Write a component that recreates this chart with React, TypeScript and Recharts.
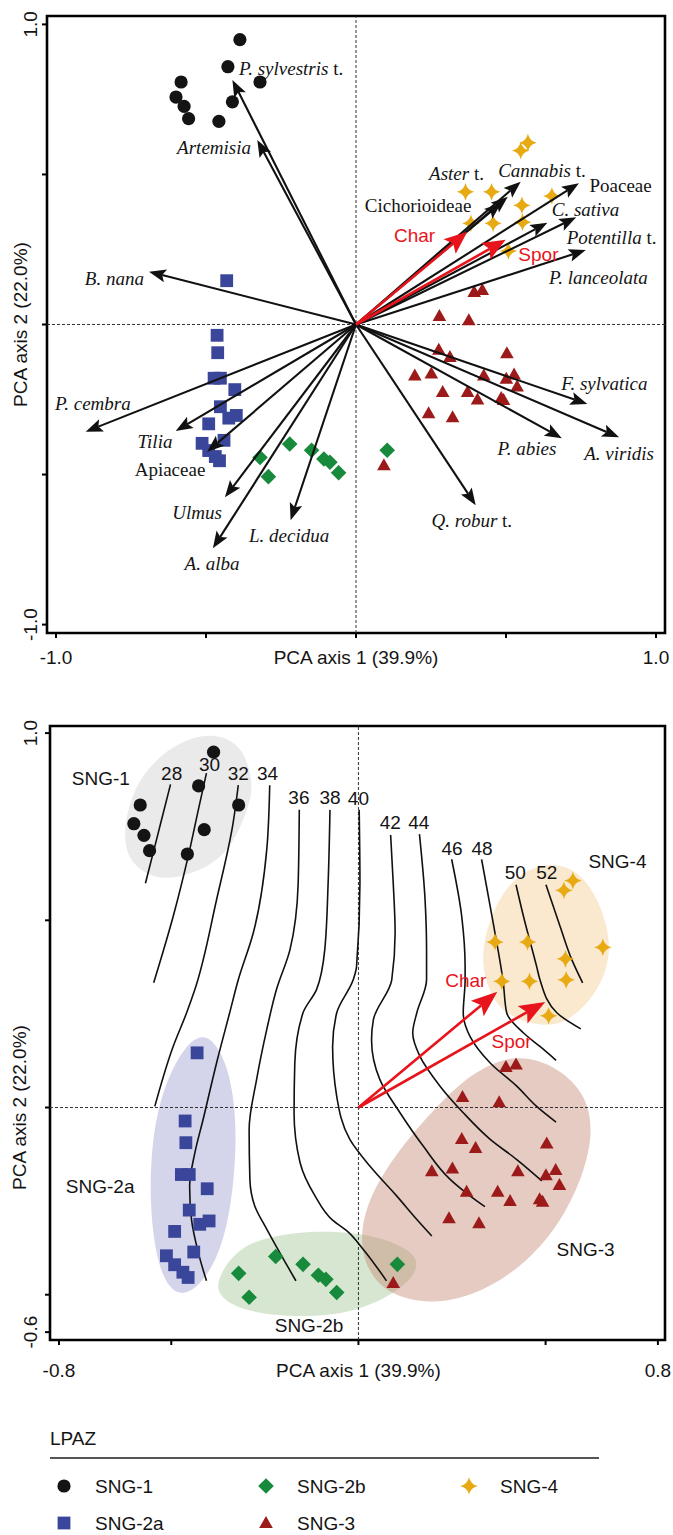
import React from "react";
import { ScatterChart, Scatter, XAxis, YAxis, ReferenceArea } from "recharts";

type Pt = { x: number; y: number };
type Lbl = { x: number; y: number; text?: string; it?: string; up?: string; anchor?: string };

// --- site scores (same in both ordinations) ---
const sng1: Pt[] = [
  { x: -0.387, y: 0.949 }, { x: -0.427, y: 0.859 }, { x: -0.32, y: 0.808 },
  { x: -0.583, y: 0.808 }, { x: -0.6, y: 0.758 }, { x: -0.573, y: 0.727 },
  { x: -0.558, y: 0.686 }, { x: -0.412, y: 0.742 }, { x: -0.457, y: 0.677 },
];
const sng2a: Pt[] = [
  { x: -0.431, y: 0.146 }, { x: -0.463, y: -0.036 }, { x: -0.461, y: -0.094 },
  { x: -0.473, y: -0.179 }, { x: -0.452, y: -0.179 }, { x: -0.404, y: -0.217 },
  { x: -0.452, y: -0.274 }, { x: -0.424, y: -0.312 }, { x: -0.399, y: -0.303 },
  { x: -0.491, y: -0.331 }, { x: -0.44, y: -0.386 }, { x: -0.513, y: -0.396 },
  { x: -0.491, y: -0.42 }, { x: -0.469, y: -0.44 }, { x: -0.455, y: -0.454 },
];
const sng2b: Pt[] = [
  { x: -0.221, y: -0.398 }, { x: -0.32, y: -0.443 }, { x: -0.292, y: -0.507 },
  { x: -0.148, y: -0.419 }, { x: -0.107, y: -0.448 }, { x: -0.087, y: -0.459 },
  { x: -0.058, y: -0.494 }, { x: 0.104, y: -0.419 },
];
const sng3: Pt[] = [
  { x: 0.394, y: 0.108 }, { x: 0.421, y: 0.115 }, { x: 0.278, y: 0.028 },
  { x: 0.376, y: 0.014 }, { x: 0.276, y: -0.084 }, { x: 0.313, y: -0.108 },
  { x: 0.503, y: -0.096 }, { x: 0.196, y: -0.17 }, { x: 0.251, y: -0.163 },
  { x: 0.426, y: -0.17 }, { x: 0.501, y: -0.181 }, { x: 0.527, y: -0.167 },
  { x: 0.537, y: -0.207 }, { x: 0.289, y: -0.225 }, { x: 0.372, y: -0.225 },
  { x: 0.405, y: -0.25 }, { x: 0.484, y: -0.245 }, { x: 0.492, y: -0.252 },
  { x: 0.242, y: -0.296 }, { x: 0.322, y: -0.309 }, { x: 0.093, y: -0.469 },
];
const sng4: Pt[] = [
  { x: 0.573, y: 0.606 }, { x: 0.549, y: 0.58 }, { x: 0.365, y: 0.442 },
  { x: 0.452, y: 0.442 }, { x: 0.653, y: 0.428 }, { x: 0.553, y: 0.397 },
  { x: 0.383, y: 0.337 }, { x: 0.457, y: 0.337 }, { x: 0.555, y: 0.341 },
  { x: 0.508, y: 0.245 },
];

// --- species loadings (top panel) ---
const speciesTips: Pt[] = [
  { x: -0.412, y: 0.815 }, { x: -0.329, y: 0.615 }, { x: -0.69, y: 0.176 },
  { x: -0.901, y: -0.357 }, { x: -0.601, y: -0.355 }, { x: -0.496, y: -0.424 },
  { x: -0.437, y: -0.576 }, { x: -0.477, y: -0.746 }, { x: -0.218, y: -0.652 },
  { x: 0.399, y: -0.602 }, { x: 0.686, y: -0.379 }, { x: 0.877, y: -0.376 },
  { x: 0.771, y: -0.265 }, { x: 0.766, y: 0.248 }, { x: 0.734, y: 0.357 },
  { x: 0.638, y: 0.339 }, { x: 0.743, y: 0.471 }, { x: 0.549, y: 0.476 },
  { x: 0.506, y: 0.426 }, { x: 0.484, y: 0.405 },
];
const speciesLabels: Lbl[] = [
  { x: -0.39, y: 0.855, it: "P. sylvestris", up: " t.", anchor: "start" },
  { x: -0.35, y: 0.592, it: "Artemisia", anchor: "end" },
  { x: -0.707, y: 0.155, it: "B. nana", anchor: "end" },
  { x: -0.751, y: -0.261, it: "P. cembra", anchor: "end" },
  { x: -0.67, y: -0.387, it: "Tilia", anchor: "middle" },
  { x: -0.62, y: -0.483, up: "Apiaceae", anchor: "middle" },
  { x: -0.53, y: -0.624, it: "Ulmus", anchor: "middle" },
  { x: -0.48, y: -0.794, it: "A. alba", anchor: "middle" },
  { x: -0.223, y: -0.702, it: "L. decidua", anchor: "middle" },
  { x: 0.386, y: -0.652, it: "Q. robur", up: " t.", anchor: "middle" },
  { x: 0.57, y: -0.413, it: "P. abies", anchor: "middle" },
  { x: 0.877, y: -0.427, it: "A. viridis", anchor: "middle" },
  { x: 0.828, y: -0.196, it: "F. sylvatica", anchor: "middle" },
  { x: 0.808, y: 0.159, it: "P. lanceolata", anchor: "middle" },
  { x: 0.852, y: 0.293, it: "Potentilla", up: " t.", anchor: "middle" },
  { x: 0.765, y: 0.384, it: "C. sativa", anchor: "middle" },
  { x: 0.882, y: 0.465, up: "Poaceae", anchor: "middle" },
  { x: 0.62, y: 0.515, it: "Cannabis", up: " t.", anchor: "middle" },
  { x: 0.335, y: 0.504, it: "Aster", up: " t.", anchor: "middle" },
  { x: 0.207, y: 0.398, up: "Cichorioideae", anchor: "middle" },
];

// --- environmental vectors ---
const envTips: Pt[] = [{ x: 0.371, y: 0.309 }, { x: 0.499, y: 0.282 }];
const envLabelsTop: Lbl[] = [
  { x: 0.195, y: 0.298, text: "Char" },
  { x: 0.608, y: 0.232, text: "Spor" },
];
const envLabelsBottom: Lbl[] = [
  { x: 0.287, y: 0.339, text: "Char" },
  { x: 0.409, y: 0.177, text: "Spor" },
];

// --- age isolines (bottom panel) ---
const isoValues = ["28", "30", "32", "34", "36", "38", "40", "42", "44", "46", "48", "50", "52"];
const isolines: Pt[][] = [
  [{ x: -0.502, y: 0.863 }, { x: -0.535, y: 0.733 }, { x: -0.569, y: 0.599 }],
  [{ x: -0.406, y: 0.893 }, { x: -0.426, y: 0.803 }, { x: -0.455, y: 0.67 }, { x: -0.495, y: 0.51 }, { x: -0.547, y: 0.333 }],
  [{ x: -0.321, y: 0.861 }, { x: -0.335, y: 0.759 }, { x: -0.379, y: 0.555 }, { x: -0.437, y: 0.315 }, { x: -0.459, y: 0.253 }, { x: -0.495, y: 0.163 }, { x: -0.544, y: 0.003 }],
  [{ x: -0.237, y: 0.861 }, { x: -0.245, y: 0.688 }, { x: -0.281, y: 0.466 }, { x: -0.321, y: 0.341 }, { x: -0.344, y: 0.253 }, { x: -0.379, y: 0.119 }, { x: -0.415, y: -0.032 }, { x: -0.437, y: -0.121 }, { x: -0.451, y: -0.21 }, { x: -0.446, y: -0.299 }, { x: -0.428, y: -0.387 }, { x: -0.406, y: -0.463 }],
  [{ x: -0.158, y: 0.795 }, { x: -0.161, y: 0.599 }, { x: -0.183, y: 0.421 }, { x: -0.219, y: 0.315 }, { x: -0.245, y: 0.208 }, { x: -0.272, y: 0.075 }, { x: -0.292, y: -0.059 }, { x: -0.29, y: -0.192 }, { x: -0.277, y: -0.263 }, { x: -0.245, y: -0.325 }, { x: -0.205, y: -0.397 }, { x: -0.167, y: -0.463 }],
  [{ x: -0.076, y: 0.795 }, { x: -0.081, y: 0.599 }, { x: -0.09, y: 0.421 }, { x: -0.112, y: 0.315 }, { x: -0.148, y: 0.253 }, { x: -0.17, y: 0.119 }, { x: -0.172, y: -0.014 }, { x: -0.156, y: -0.147 }, { x: -0.116, y: -0.236 }, { x: -0.07, y: -0.3 }, { x: -0.03, y: -0.33 }, { x: 0.013, y: -0.379 }, { x: 0.075, y: -0.463 }],
  [{ x: 0.002, y: 0.795 }, { x: 0.004, y: 0.599 }, { x: -0.005, y: 0.377 }, { x: -0.014, y: 0.341 }, { x: -0.058, y: 0.253 }, { x: -0.069, y: 0.163 }, { x: -0.058, y: 0.03 }, { x: -0.023, y: -0.085 }, { x: 0.031, y: -0.157 }, { x: 0.102, y: -0.236 }, { x: 0.156, y: -0.299 }, { x: 0.196, y: -0.343 }],
  [{ x: 0.086, y: 0.728 }, { x: 0.093, y: 0.599 }, { x: 0.098, y: 0.466 }, { x: 0.089, y: 0.341 }, { x: 0.04, y: 0.235 }, { x: 0.035, y: 0.181 }, { x: 0.057, y: 0.075 }, { x: 0.111, y: -0.014 }, { x: 0.173, y: -0.103 }, { x: 0.245, y: -0.192 }, { x: 0.298, y: -0.236 }, { x: 0.338, y: -0.265 }],
  [{ x: 0.163, y: 0.73 }, { x: 0.178, y: 0.555 }, { x: 0.182, y: 0.421 }, { x: 0.182, y: 0.341 }, { x: 0.156, y: 0.253 }, { x: 0.145, y: 0.199 }, { x: 0.164, y: 0.137 }, { x: 0.218, y: 0.057 }, { x: 0.28, y: -0.014 }, { x: 0.352, y: -0.085 }, { x: 0.423, y: -0.139 }, { x: 0.49, y: -0.196 }],
  [{ x: 0.249, y: 0.663 }, { x: 0.276, y: 0.51 }, { x: 0.285, y: 0.377 }, { x: 0.285, y: 0.341 }, { x: 0.28, y: 0.253 }, { x: 0.298, y: 0.19 }, { x: 0.352, y: 0.119 }, { x: 0.423, y: 0.057 }, { x: 0.476, y: 0.003 }, { x: 0.528, y: -0.039 }],
  [{ x: 0.329, y: 0.663 }, { x: 0.36, y: 0.493 }, { x: 0.387, y: 0.333 }, { x: 0.396, y: 0.253 }, { x: 0.441, y: 0.199 }, { x: 0.485, y: 0.163 }, { x: 0.528, y: 0.126 }],
  [{ x: 0.421, y: 0.595 }, { x: 0.441, y: 0.51 }, { x: 0.476, y: 0.377 }, { x: 0.485, y: 0.341 }, { x: 0.53, y: 0.253 }, { x: 0.594, y: 0.21 }],
  [{ x: 0.501, y: 0.595 }, { x: 0.539, y: 0.483 }, { x: 0.57, y: 0.395 }, { x: 0.599, y: 0.333 }],
];
const isoLabelAt: Pt[] = [
  { x: -0.499, y: 0.892 }, { x: -0.398, y: 0.916 }, { x: -0.321, y: 0.892 }, { x: -0.243, y: 0.892 },
  { x: -0.159, y: 0.827 }, { x: -0.076, y: 0.827 }, { x: 0.0, y: 0.825 }, { x: 0.085, y: 0.76 },
  { x: 0.161, y: 0.76 }, { x: 0.25, y: 0.692 }, { x: 0.33, y: 0.692 }, { x: 0.419, y: 0.628 },
  { x: 0.503, y: 0.628 },
];

// --- zone envelopes (outline) ---
const hull1: Pt[] = [
  { x: -0.385, y: 1.0 }, { x: -0.311, y: 0.97 }, { x: -0.279, y: 0.868 }, { x: -0.293, y: 0.8 },
  { x: -0.34, y: 0.693 }, { x: -0.404, y: 0.637 }, { x: -0.525, y: 0.6 }, { x: -0.608, y: 0.646 },
  { x: -0.631, y: 0.721 }, { x: -0.608, y: 0.841 }, { x: -0.543, y: 0.933 }, { x: -0.46, y: 0.985 },
];
const hull2a: Pt[] = [
  { x: -0.409, y: 0.213 }, { x: -0.347, y: 0.121 }, { x: -0.321, y: -0.055 }, { x: -0.34, y: -0.287 },
  { x: -0.386, y: -0.434 }, { x: -0.469, y: -0.521 }, { x: -0.535, y: -0.452 }, { x: -0.562, y: -0.24 },
  { x: -0.545, y: -0.008 }, { x: -0.479, y: 0.15 },
];
const hull2b: Pt[] = [
  { x: -0.383, y: -0.465 }, { x: -0.32, y: -0.365 }, { x: -0.184, y: -0.333 }, { x: -0.048, y: -0.33 },
  { x: 0.06, y: -0.346 }, { x: 0.137, y: -0.38 }, { x: 0.165, y: -0.419 }, { x: 0.129, y: -0.477 },
  { x: 0.005, y: -0.546 }, { x: -0.157, y: -0.563 }, { x: -0.306, y: -0.545 }, { x: -0.37, y: -0.508 },
];
const hull3: Pt[] = [
  { x: 0.425, y: 0.145 }, { x: 0.535, y: 0.108 }, { x: 0.608, y: 0.034 }, { x: 0.626, y: -0.059 },
  { x: 0.608, y: -0.16 }, { x: 0.545, y: -0.305 }, { x: 0.435, y: -0.431 }, { x: 0.298, y: -0.508 },
  { x: 0.18, y: -0.526 }, { x: 0.06, y: -0.493 }, { x: 0.001, y: -0.391 }, { x: 0.015, y: -0.262 },
  { x: 0.096, y: -0.126 }, { x: 0.214, y: 0.01 }, { x: 0.314, y: 0.101 },
];
const hull4: Pt[] = [
  { x: 0.507, y: 0.663 }, { x: 0.614, y: 0.625 }, { x: 0.688, y: 0.439 }, { x: 0.643, y: 0.309 },
  { x: 0.569, y: 0.235 }, { x: 0.503, y: 0.212 }, { x: 0.383, y: 0.245 }, { x: 0.336, y: 0.337 },
  { x: 0.326, y: 0.439 }, { x: 0.392, y: 0.607 },
];
const zoneLabels: Lbl[] = [
  { x: -0.688, y: 0.879, text: "SNG-1" },
  { x: -0.69, y: -0.211, text: "SNG-2a" },
  { x: -0.132, y: -0.582, text: "SNG-2b" },
  { x: 0.607, y: -0.379, text: "SNG-3" },
  { x: 0.692, y: 0.657, text: "SNG-4" },
];

const legendNames = ["SNG-1", "SNG-2a", "SNG-2b", "SNG-3", "SNG-4"];

const SANS = "'Liberation Sans', Arial, Helvetica, sans-serif";
const SERIF = "'Liberation Serif', 'Times New Roman', serif";
const INK = "#141414";
const C1 = "#141414";
const C2A = "#3a4699";
const C2B = "#178a3b";
const C3 = "#9c1a1a";
const C4 = "#e7aa12";
const RED = "#e8141c";

const noShape = () => <g />;

const Dot = ({ cx, cy }: any) => <circle cx={cx} cy={cy} r={6.6} fill={C1} />;
const Sq = ({ cx, cy }: any) => <rect x={cx - 6.4} y={cy - 6.4} width={12.8} height={12.8} fill={C2A} />;
const Dia = ({ cx, cy }: any) => (
  <polygon points={`${cx},${cy - 7.8} ${cx + 7.8},${cy} ${cx},${cy + 7.8} ${cx - 7.8},${cy}`} fill={C2B} />
);
const Tri = ({ cx, cy }: any) => (
  <polygon points={`${cx},${cy - 7} ${cx + 6.8},${cy + 5} ${cx - 6.8},${cy + 5}`} fill={C3} />
);
const Star = ({ cx, cy }: any) => {
  const R = 8.8;
  const c = 1.6;
  return (
    <path
      d={`M${cx},${cy - R} Q${cx + c},${cy - c} ${cx + R},${cy} Q${cx + c},${cy + c} ${cx},${cy + R} Q${cx - c},${cy + c} ${cx - R},${cy} Q${cx - c},${cy - c} ${cx},${cy - R}Z`}
      fill={C4}
    />
  );
};

function drawArrow(points: { x: number; y: number }[], color: string, w: number, len: number, half: number) {
  if (!points || points.length < 2) return <g />;
  const a = points[0];
  const b = points[points.length - 1];
  const dx = b.x - a.x;
  const dy = b.y - a.y;
  const L = Math.hypot(dx, dy) || 1;
  const ux = dx / L;
  const uy = dy / L;
  const bx = b.x - ux * len;
  const by = b.y - uy * len;
  const nx = b.x - ux * len * 0.8;
  const ny = b.y - uy * len * 0.8;
  return (
    <g>
      <line x1={a.x} y1={a.y} x2={nx} y2={ny} stroke={color} strokeWidth={w} />
      <polygon
        points={`${b.x},${b.y} ${bx - uy * half},${by + ux * half} ${nx},${ny} ${bx + uy * half},${by - ux * half}`}
        fill={color}
      />
    </g>
  );
}

const SpeciesText = ({ cx, cy, payload }: any) => (
  <text
    x={cx}
    y={cy}
    textAnchor={payload.anchor}
    dominantBaseline="central"
    fontFamily={SERIF}
    fontSize={19}
    fill={INK}
    style={{ whiteSpace: "pre" }}
  >
    {payload.it ? <tspan fontStyle="italic">{payload.it}</tspan> : null}
    {payload.up ? <tspan>{payload.up}</tspan> : null}
  </text>
);

const plainText = (color: string) => ({ cx, cy, payload }: any) => (
  <text x={cx} y={cy} textAnchor="middle" dominantBaseline="central" fontFamily={SANS} fontSize={19} fill={color}>
    {payload.text}
  </text>
);

const makeXTick = (ends: number[], title: string, ty: number) => (props: any) => {
  const { x, payload } = props;
  const v = payload.value;
  if (v === 0)
    return (
      <text x={x} y={ty} textAnchor="middle" dominantBaseline="central" fontFamily={SANS} fontSize={19} fill={INK}>
        {title}
      </text>
    );
  if (ends.includes(v))
    return (
      <text x={x} y={ty} textAnchor="middle" dominantBaseline="central" fontFamily={SANS} fontSize={19} fill={INK}>
        {v.toFixed(1)}
      </text>
    );
  return <g />;
};

const makeYTick = (ends: number[], title: string) => (props: any) => {
  const { y, payload } = props;
  const v = payload.value;
  const tx = v === 0 ? 20 : 31;
  const label = v === 0 ? title : ends.includes(v) ? v.toFixed(1) : null;
  if (!label) return <g />;
  return (
    <text
      x={tx}
      y={y}
      transform={`rotate(-90 ${tx} ${y})`}
      textAnchor="middle"
      dominantBaseline="central"
      fontFamily={SANS}
      fontSize={19}
      fill={INK}
    >
      {label}
    </text>
  );
};

const samples = () => [
  <Scatter key="s1" data={sng1} shape={Dot} isAnimationActive={false} />,
  <Scatter key="s2a" data={sng2a} shape={Sq} isAnimationActive={false} />,
  <Scatter key="s2b" data={sng2b} shape={Dia} isAnimationActive={false} />,
  <Scatter key="s3" data={sng3} shape={Tri} isAnimationActive={false} />,
  <Scatter key="s4" data={sng4} shape={Star} isAnimationActive={false} />,
];

const zeroLines = (xd: number[], yd: number[]) => [
  <Scatter
    key="zx"
    data={[{ x: xd[0], y: 0 }, { x: xd[1], y: 0 }]}
    shape={noShape}
    line={{ stroke: "#333", strokeWidth: 1, strokeDasharray: "3 2" }}
    isAnimationActive={false}
  />,
  <Scatter
    key="zy"
    data={[{ x: 0, y: yd[0] }, { x: 0, y: yd[1] }]}
    shape={noShape}
    line={{ stroke: "#333", strokeWidth: 1, strokeDasharray: "3 2" }}
    isAnimationActive={false}
  />,
];

const envArrows = (len: number, half: number) =>
  envTips.map((t, i) => (
    <Scatter
      key={`env${i}`}
      data={[{ x: 0, y: 0 }, t]}
      shape={noShape}
      line={(p: any) => drawArrow(p.points, RED, 2.6, len, half)}
      isAnimationActive={false}
    />
  ));

const X1 = [-1.03, 1.03];
const Y1 = [-1.028, 1.028];
const X2 = [-0.824, 0.819];
const Y2 = [-0.621, 1.019];

function TopBiplot() {
  return (
    <ScatterChart width={673} height={690} margin={{ top: 16, right: 8, bottom: 0, left: 0 }}>
      <XAxis
        type="number"
        dataKey="x"
        domain={X1}
        allowDataOverflow
        ticks={[-1, -0.5, 0, 0.5, 1]}
        interval={0}
        axisLine={false}
        tickLine={{ stroke: "#000", strokeWidth: 2 }}
        tickSize={5}
        height={57}
        tick={makeXTick([-1, 1], "PCA axis 1 (39.9%)", 657)}
      />
      <YAxis
        type="number"
        dataKey="y"
        domain={Y1}
        allowDataOverflow
        ticks={[-1, -0.5, 0, 0.5, 1]}
        interval={0}
        axisLine={false}
        tickLine={{ stroke: "#000", strokeWidth: 2 }}
        tickSize={5}
        width={47}
        tick={makeYTick([-1, 1], "PCA axis 2 (22.0%)")}
      />
      <ReferenceArea x1={X1[0]} x2={X1[1]} y1={Y1[0]} y2={Y1[1]} fill="none" stroke="#000" strokeWidth={2.6} ifOverflow="visible" />
      {zeroLines(X1, Y1)}
      {samples()}
      {speciesTips.map((t, i) => (
        <Scatter
          key={`sp${i}`}
          data={[{ x: 0, y: 0 }, t]}
          shape={noShape}
          line={(p: any) => drawArrow(p.points, "#111", 2.1, 17, 6.5)}
          isAnimationActive={false}
        />
      ))}
      {envArrows(23, 9.5)}
      <Scatter data={speciesLabels} shape={SpeciesText} isAnimationActive={false} />
      <Scatter data={envLabelsTop} shape={plainText(RED)} isAnimationActive={false} />
    </ScatterChart>
  );
}

function BottomBiplot() {
  const hulls: [Pt[], string, number][] = [
    [hull1, "#e6e6e6", 0.85],
    [hull2a, "#c9c9e6", 0.8],
    [hull2b, "#c9dec2", 0.75],
    [hull4, "#f8e2bd", 0.75],
    [hull3, "#c68b75", 0.45],
  ];
  return (
    <ScatterChart width={673} height={700} margin={{ top: 36, right: 8, bottom: 0, left: 0 }}>
      <XAxis
        type="number"
        dataKey="x"
        domain={X2}
        allowDataOverflow
        ticks={[-0.8, -0.5, 0, 0.5, 0.8]}
        interval={0}
        axisLine={false}
        tickLine={{ stroke: "#000", strokeWidth: 2 }}
        tickSize={5}
        height={50}
        tick={makeXTick([-0.8, 0.8], "PCA axis 1 (39.9%)", 680)}
      />
      <YAxis
        type="number"
        dataKey="y"
        domain={Y2}
        allowDataOverflow
        ticks={[-0.6, -0.5, 0, 0.5, 1]}
        interval={0}
        axisLine={false}
        tickLine={{ stroke: "#000", strokeWidth: 2 }}
        tickSize={5}
        width={50}
        tick={makeYTick([-0.6, 1], "PCA axis 2 (22.0%)")}
      />
      <ReferenceArea x1={X2[0]} x2={X2[1]} y1={Y2[0]} y2={Y2[1]} fill="none" stroke="#000" strokeWidth={2.6} ifOverflow="visible" />
      {hulls.map(([h, col, op], i) => (
        <Scatter
          key={`h${i}`}
          data={h}
          shape={noShape}
          line={{ fill: col, fillOpacity: op, stroke: "none" }}
          lineJointType="basisClosed"
          isAnimationActive={false}
        />
      ))}
      {zeroLines(X2, Y2)}
      {isolines.map((l, i) => (
        <Scatter
          key={`iso${i}`}
          data={l}
          shape={noShape}
          line={{ stroke: "#111", strokeWidth: 1.6 }}
          lineJointType="monotoneY"
          isAnimationActive={false}
        />
      ))}
      <Scatter
        data={isoLabelAt.map((p, i) => ({ ...p, text: isoValues[i] }))}
        shape={plainText(INK)}
        isAnimationActive={false}
      />
      {samples()}
      {envArrows(26, 10)}
      <Scatter data={envLabelsBottom} shape={plainText(RED)} isAnimationActive={false} />
      <Scatter data={zoneLabels} shape={plainText(INK)} isAnimationActive={false} />
    </ScatterChart>
  );
}

function ZoneLegend() {
  const marks = [Dot, Sq, Dia, Tri, Star];
  const spots = [
    { sx: 64, sy: 66 },
    { sx: 64, sy: 103 },
    { sx: 266, sy: 66 },
    { sx: 266, sy: 103 },
    { sx: 469, sy: 66 },
  ];
  return (
    <svg width={673} height={115} style={{ display: "block" }}>
      <text x={50} y={18} dominantBaseline="central" fontFamily={SANS} fontSize={19} fill={INK}>
        LPAZ
      </text>
      <line x1={50} x2={599} y1={38} y2={38} stroke="#555" strokeWidth={2} />
      {legendNames.map((n, i) => {
        const M = marks[i];
        const { sx, sy } = spots[i];
        return (
          <g key={n}>
            <M cx={sx} cy={sy} />
            <text x={sx + 31} y={sy} dominantBaseline="central" fontFamily={SANS} fontSize={19} fill={INK}>
              {n}
            </text>
          </g>
        );
      })}
    </svg>
  );
}

export default function App() {
  return (
    <div style={{ position: "absolute", left: 0, top: 0, width: 673, height: 1535, background: "#fff" }}>
      <div style={{ position: "absolute", left: 0, top: 0 }}>
        <TopBiplot />
      </div>
      <div style={{ position: "absolute", left: 0, top: 690 }}>
        <BottomBiplot />
      </div>
      <div style={{ position: "absolute", left: 0, top: 1420 }}>
        <ZoneLegend />
      </div>
    </div>
  );
}
